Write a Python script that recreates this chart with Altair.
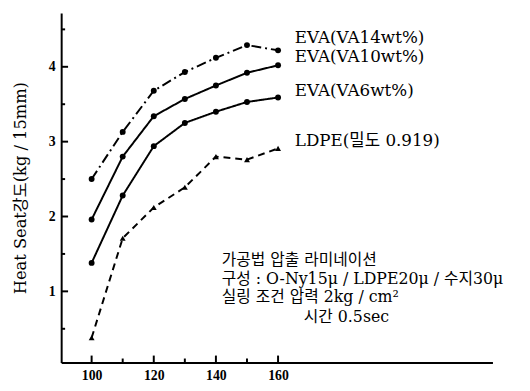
import altair as alt
import pandas as pd

temps = [100, 110, 120, 130, 140, 150, 160]
eva14 = [2.50, 3.13, 3.68, 3.93, 4.12, 4.29, 4.22]
eva10 = [1.96, 2.80, 3.34, 3.57, 3.75, 3.92, 4.02]
eva6 = [1.38, 2.28, 2.94, 3.25, 3.40, 3.53, 3.59]
ldpe = [0.38, 1.71, 2.12, 2.39, 2.80, 2.76, 2.91]
series_names = ["EVA(VA14wt%)", "EVA(VA10wt%)", "EVA(VA6wt%)", "LDPE(밀도 0.919)"]

label_x = [165.4, 165.4, 165.4, 165.4]
label_y = [4.39, 4.13, 3.67, 3.01]

x_ticks = [100, 120, 140, 160]
x_minor = [110, 130, 150]
y_ticks = [1, 2, 3, 4]
y_minor = [0.5, 1.5, 2.5, 3.5, 4.5]

note_lines = [
    "가공법 압출 라미네이션",
    "구성 : O-Ny15μ / LDPE20μ / 수지30μ",
    "실링 조건 압력 2kg / cm²",
    "시간 0.5sec",
]
note_x = [141.9, 141.9, 141.9, 168.3]
note_y = [1.42, 1.17, 0.92, 0.66]

W, H = 438, 355
SERIF = "DejaVu Serif, Noto Sans CJK KR"

rows = []
for name, vals in zip(series_names, [eva14, eva10, eva6, ldpe]):
    for t, v in zip(temps, vals):
        rows.append({"series": name, "temp": t, "value": v})
df = pd.DataFrame(rows)

xs = alt.Scale(domain=[90.2, 229], nice=False, zero=False)
ys = alt.Scale(domain=[0.05, 4.72], nice=False, zero=False)

x_axis = alt.Axis(
    values=x_ticks, title=None, ticks=False, domain=True, domainColor="black", domainWidth=2,
    labelFont="Liberation Serif", labelFontWeight="bold", labelFontSize=14, labelColor="black",
    labelPadding=6, grid=False)
y_axis = alt.Axis(
    values=y_ticks, title="Heat Seat강도(kg / 15mm)", ticks=False, domain=True, domainColor="black",
    domainWidth=2, labelFont="Liberation Serif", labelFontWeight="bold", labelFontSize=14,
    labelColor="black", labelPadding=6, grid=False, titleFont=SERIF, titleFontSize=16.5,
    titleFontWeight="normal", titleColor="black", titlePadding=20)

x_enc = alt.X("temp:Q", scale=xs, axis=x_axis)
y_enc = alt.Y("value:Q", scale=ys, axis=y_axis)

dash_scale = alt.Scale(domain=series_names, range=[[10, 4, 2, 4], [1, 0], [1, 0], [7, 5]])
shape_scale = alt.Scale(domain=series_names, range=["circle", "circle", "circle", "triangle-up"])

lines = alt.Chart(df).mark_line(color="black", strokeWidth=2).encode(
    x=x_enc, y=y_enc,
    strokeDash=alt.StrokeDash("series:N", scale=dash_scale, legend=None),
    detail="series:N",
)
points = alt.Chart(df).mark_point(filled=True, color="black", opacity=1, size=36).encode(
    x=x_enc, y=y_enc,
    shape=alt.Shape("series:N", scale=shape_scale, legend=None),
)

xt_major = alt.Chart(pd.DataFrame({"temp": x_ticks})).mark_rule(color="black", strokeWidth=2).encode(
    x=x_enc, y=alt.value(H), y2=alt.value(H - 7))
xt_minor = alt.Chart(pd.DataFrame({"temp": x_minor})).mark_rule(color="black", strokeWidth=2).encode(
    x=x_enc, y=alt.value(H), y2=alt.value(H - 4))
yt_major = alt.Chart(pd.DataFrame({"value": y_ticks})).mark_rule(color="black", strokeWidth=2).encode(
    y=y_enc, x=alt.value(0), x2=alt.value(7))
yt_minor = alt.Chart(pd.DataFrame({"value": y_minor})).mark_rule(color="black", strokeWidth=2).encode(
    y=y_enc, x=alt.value(0), x2=alt.value(4))

labels = alt.Chart(pd.DataFrame({"temp": label_x, "value": label_y, "text": series_names})).mark_text(
    align="left", baseline="middle", font=SERIF, fontSize=17, color="black").encode(
    x=x_enc, y=y_enc, text="text:N")

notes = alt.Chart(pd.DataFrame({"temp": note_x, "value": note_y, "text": note_lines})).mark_text(
    align="left", baseline="middle", font=SERIF, fontSize=16, color="black").encode(
    x=x_enc, y=y_enc, text="text:N")

chart = alt.layer(xt_major, xt_minor, yt_major, yt_minor, lines, points, labels, notes).properties(
    width=W, height=H,
    autosize=alt.AutoSizeParams(type="none"),
    padding={"left": 54, "top": 2, "right": 30, "bottom": 26},
    background="white",
).configure_view(stroke=None)

chart.save("out.html", embed_options={"renderer": "svg", "actions": False})
